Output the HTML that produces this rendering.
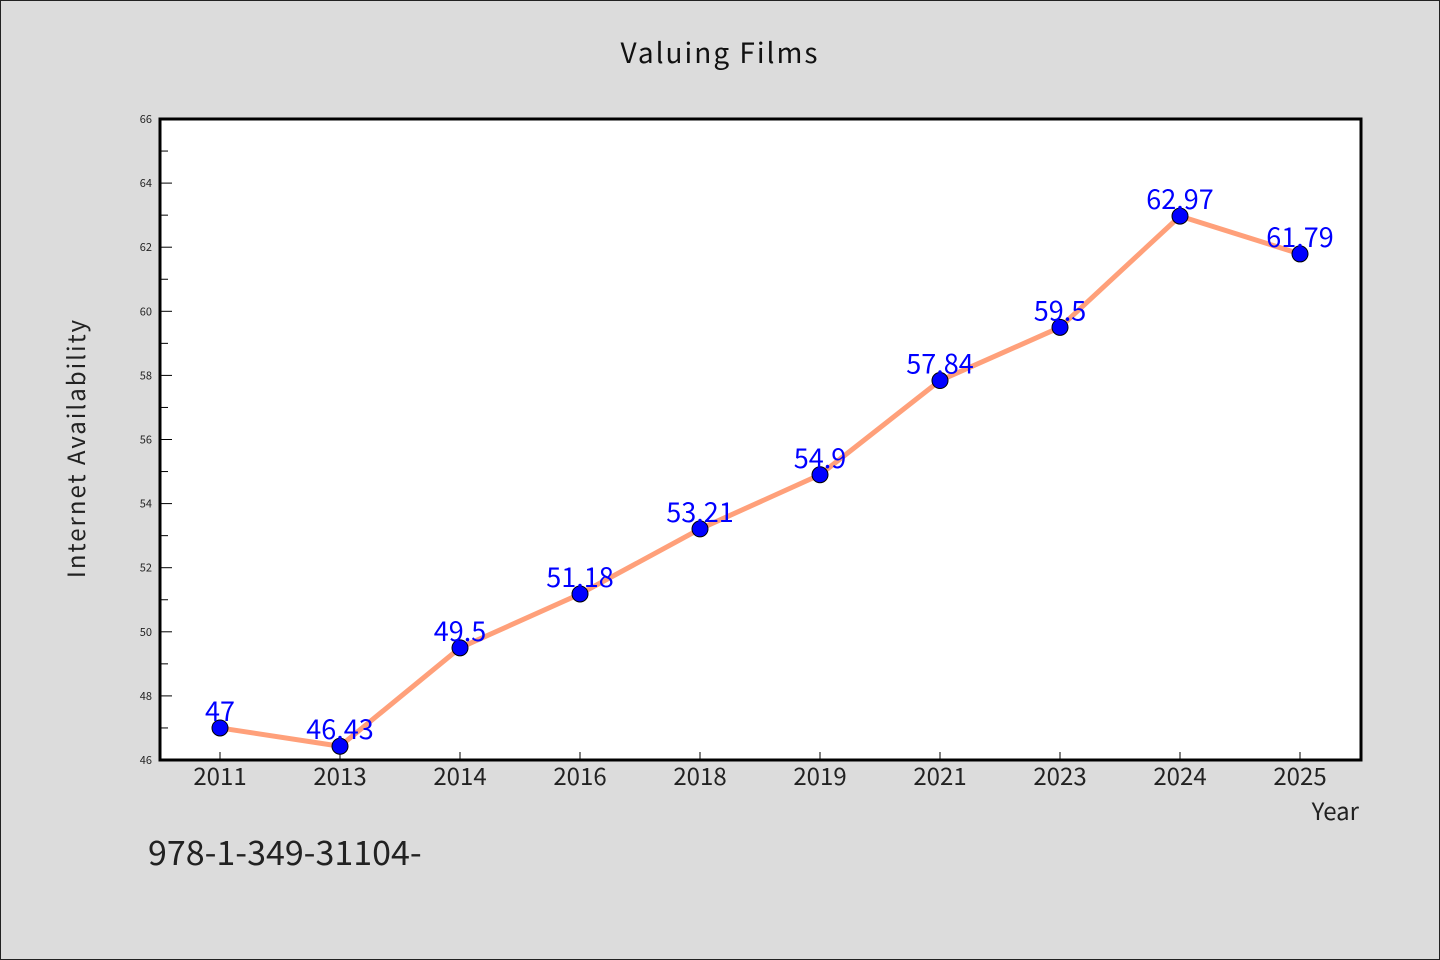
<!DOCTYPE html>
<html><head><meta charset="utf-8"><style>
body{margin:0;background:#dcdcdc}
svg{display:block}
text{font-family:"WenQuanYi Zen Hei","Noto Sans CJK SC","DejaVu Sans",sans-serif}
</style></head><body>
<svg width="1440" height="960" viewBox="0 0 1440 960" xmlns="http://www.w3.org/2000/svg" font-family="'WenQuanYi Zen Hei','Noto Sans CJK SC',sans-serif">
<rect x="0.5" y="0.5" width="1439" height="959" fill="#dcdcdc" stroke="#222"/>
<text x="720" y="63" text-anchor="middle" font-size="28" letter-spacing="2" fill="#111">Valuing Films</text>
<rect x="160" y="119" width="1201" height="641" fill="#fff"/>
<g id="grid"></g>
<g id="series"></g>
<rect x="160" y="119" width="1201" height="641" fill="none" stroke="#000" stroke-width="3"/>
<text transform="translate(85,448) rotate(-90)" text-anchor="middle" font-size="24" letter-spacing="2" fill="#222">Internet Availability</text>
<text x="1359" y="820" text-anchor="end" font-size="24" fill="#222">Year</text>
<text x="148" y="865" font-size="34" fill="#222">978-1-349-31104-</text>
</svg>
<script>
const categories=["2011","2013","2014","2016","2018","2019","2021","2023","2024","2025"];
const values=[47,46.43,49.5,51.18,53.21,54.9,57.84,59.5,62.97,61.79];
const labels=["47","46.43","49.5","51.18","53.21","54.9","57.84","59.5","62.97","61.79"];
const yTicks=[46,48,50,52,54,56,58,60,62,64,66];
const NS="http://www.w3.org/2000/svg";
const X0=160,W=1201,Y0=119,H=641,yMin=46,yMax=66;
const band=1200/categories.length;
const xs=i=>X0+band/2+i*band;
const ys=v=>Y0+H-(v-yMin)/(yMax-yMin)*H;
function mk(tag,attrs,parent){const e=document.createElementNS(NS,tag);for(const k in attrs)e.setAttribute(k,attrs[k]);parent.appendChild(e);return e;}
const g=document.getElementById('grid'),s=document.getElementById('series');
yTicks.forEach((t,i)=>{
 const y=ys(t);
 const l=mk('line',{x1:X0,x2:X0+12,y1:y,y2:y,stroke:'#000','stroke-width':1},g);
 
 
 const tx=mk('text',{x:X0-8,y:y+4,'text-anchor':'end','font-size':11,fill:'#222'},g);
 tx.textContent=t;
 
 
 if(i<yTicks.length-1){const ym=ys(t+1);
  const m=mk('line',{x1:X0,x2:X0+8,y1:ym,y2:ym,stroke:'#000','stroke-width':1},g);
  
  }
});
categories.forEach((c,i)=>{
 const x=xs(i);
 const l=mk('line',{x1:x,x2:x,y1:Y0+H,y2:Y0+H-8,stroke:'#000','stroke-width':1},g);
 
 
 const tx=mk('text',{x:x,y:785,'text-anchor':'middle','font-size':24,fill:'#222'},g);
 tx.textContent=c;
 
 
});
const pl=mk('polyline',{points:values.map((v,i)=>xs(i)+','+ys(v)).join(' '),fill:'none',stroke:'#ffa07a','stroke-width':5,'stroke-linejoin':'round'},s);


values.forEach((v,i)=>{
 const c=mk('circle',{cx:xs(i),cy:ys(v),r:8,fill:'#0000ff',stroke:'#000','stroke-width':1},s);
 
 
});
values.forEach((v,i)=>{
 const t=mk('text',{x:xs(i),y:ys(v)-7,'text-anchor':'middle','font-size':27,fill:'#0000ff'},s);
 t.textContent=labels[i];
 
 
});
</script>
</body></html>
